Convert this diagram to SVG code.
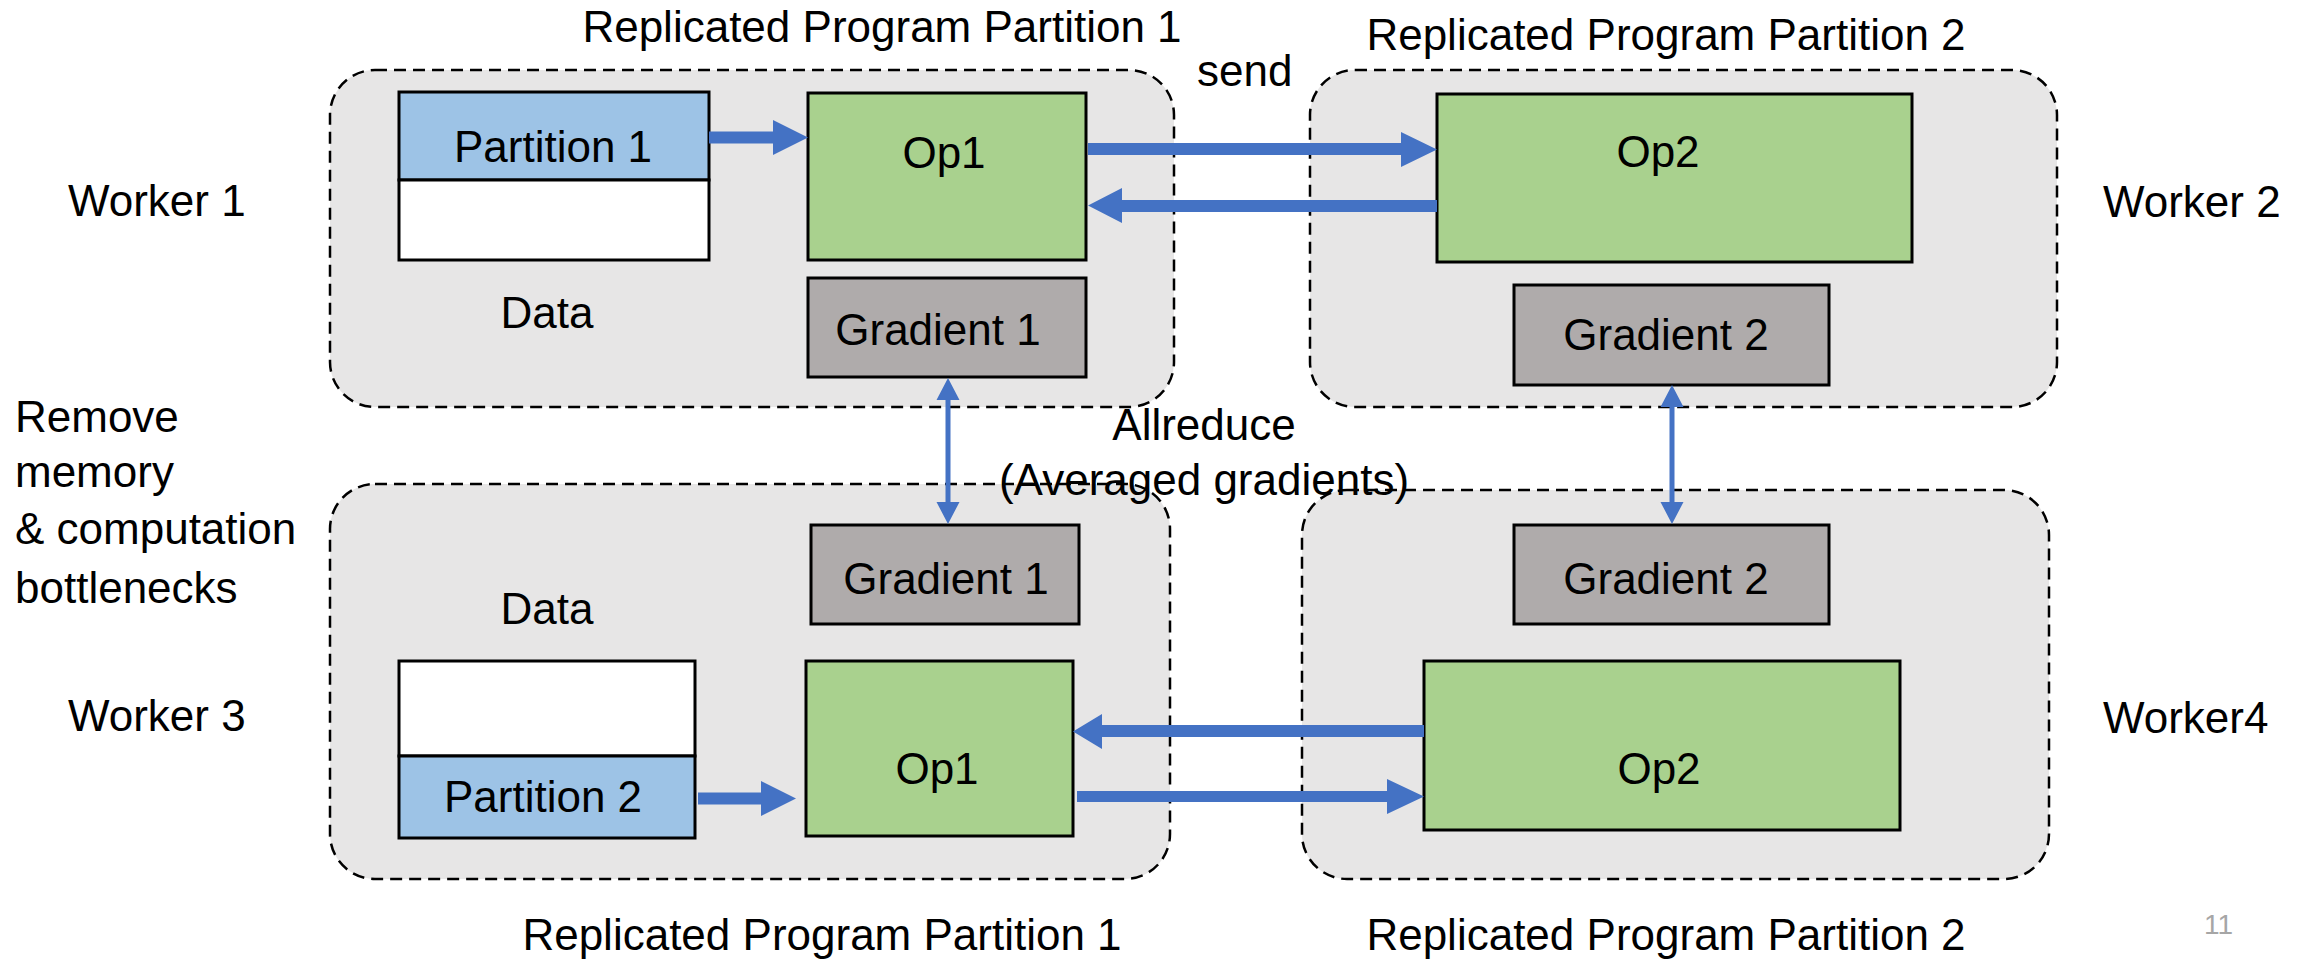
<svg xmlns="http://www.w3.org/2000/svg" width="2308" height="959" viewBox="0 0 2308 959">
<style>
text{font-family:"Liberation Sans",Arial,sans-serif;font-size:44px;fill:#000}
.c{text-anchor:middle}
.cont{fill:#E7E6E6;stroke:#000;stroke-width:2.5;stroke-dasharray:12 7}
.part{fill:#9DC3E6;stroke:#000;stroke-width:3}
.white{fill:#FFFFFF;stroke:#000;stroke-width:3}
.op{fill:#A9D18E;stroke:#000;stroke-width:3}
.grad{fill:#AFABAB;stroke:#000;stroke-width:3}
.arr{fill:#4472C4;stroke:none}
</style>
<rect width="2308" height="959" fill="#FFFFFF"/>

<g id="container-w1"><rect class="cont" x="330" y="70" width="844" height="337" rx="45" ry="45"/></g>
<g id="container-w2"><rect class="cont" x="1310" y="70" width="747" height="337" rx="45" ry="45"/></g>
<g id="container-w3"><rect class="cont" x="330" y="484" width="840" height="395" rx="45" ry="45"/></g>
<g id="container-w4"><rect class="cont" x="1302" y="490" width="747" height="389" rx="45" ry="45"/></g>

<g id="labels">
<text class="c" x="882" y="42">Replicated Program Partition 1</text>
<text class="c" x="1666" y="50">Replicated Program Partition 2</text>
<text class="c" x="822" y="950">Replicated Program Partition 1</text>
<text class="c" x="1666" y="950">Replicated Program Partition 2</text>
<text x="1197" y="86">send</text>
<text x="68" y="216">Worker 1</text>
<text x="2103" y="217">Worker 2</text>
<text x="68" y="731">Worker 3</text>
<text x="2103" y="733">Worker4</text>
<text x="15" y="432">Remove</text>
<text x="15" y="487">memory</text>
<text x="15" y="544">&amp; computation</text>
<text x="15" y="603">bottlenecks</text>
<text class="c" x="1204" y="440">Allreduce</text>
<text class="c" x="1204" y="495">(Averaged gradients)</text>
<text x="2204" y="934" style="font-size:28px;fill:#A6A6A6">11</text>
</g>

<g id="data-w1">
<rect class="part" x="399" y="92" width="310" height="88"/>
<rect class="white" x="399" y="180" width="310" height="80"/>
<text class="c" x="553" y="162">Partition 1</text>
<text class="c" x="547" y="328">Data</text>
</g>
<g id="op1-w1">
<rect class="op" x="808" y="93" width="278" height="167"/>
<text class="c" x="944" y="168">Op1</text>
</g>
<g id="grad1-w1">
<rect class="grad" x="808" y="278" width="278" height="99"/>
<text class="c" x="938" y="345">Gradient 1</text>
</g>

<g id="op2-w2">
<rect class="op" x="1437" y="94" width="475" height="168"/>
<text class="c" x="1658" y="167">Op2</text>
</g>
<g id="grad2-w2">
<rect class="grad" x="1514" y="285" width="315" height="100"/>
<text class="c" x="1666" y="350">Gradient 2</text>
</g>

<g id="data-w3">
<rect class="white" x="399" y="661" width="296" height="95"/>
<rect class="part" x="399" y="756" width="296" height="82"/>
<text class="c" x="543" y="812">Partition 2</text>
<text class="c" x="547" y="624">Data</text>
</g>
<g id="grad1-w3">
<rect class="grad" x="811" y="525" width="268" height="99"/>
<text class="c" x="946" y="594">Gradient 1</text>
</g>
<g id="op1-w3">
<rect class="op" x="806" y="661" width="267" height="175"/>
<text class="c" x="937" y="784">Op1</text>
</g>

<g id="grad2-w4">
<rect class="grad" x="1514" y="525" width="315" height="99"/>
<text class="c" x="1666" y="594">Gradient 2</text>
</g>
<g id="op2-w4">
<rect class="op" x="1424" y="661" width="476" height="169"/>
<text class="c" x="1659" y="784">Op2</text>
</g>

<g id="connectors">
<path class="arr" d="M709,131.5 H773 V120 L808,137.5 L773,155 V143.5 H709 Z"/>
<path class="arr" d="M1088,143 H1401 V132 L1437,149.5 L1401,167 V155 H1088 Z"/>
<path class="arr" d="M1437,200 H1122 V188 L1088,205.5 L1122,223 V212 H1437 Z"/>
<path class="arr" d="M698,792.5 H761 V781 L796,798.5 L761,816 V804.5 H698 Z"/>
<path class="arr" d="M1424,725 H1102 V714 L1073,731.5 L1102,749 V737 H1424 Z"/>
<path class="arr" d="M1077,791 H1387 V779 L1424,796.5 L1387,814 V802 H1077 Z"/>
<path class="arr" d="M948,378 L959.5,400 H950.5 V502 H959.5 L948,524 L936.5,502 H945.5 V400 H936.5 Z"/>
<path class="arr" d="M1672,385 L1683.5,407 H1674.5 V502 H1683.5 L1672,524 L1660.5,502 H1669.5 V407 H1660.5 Z"/>
</g>
</svg>
